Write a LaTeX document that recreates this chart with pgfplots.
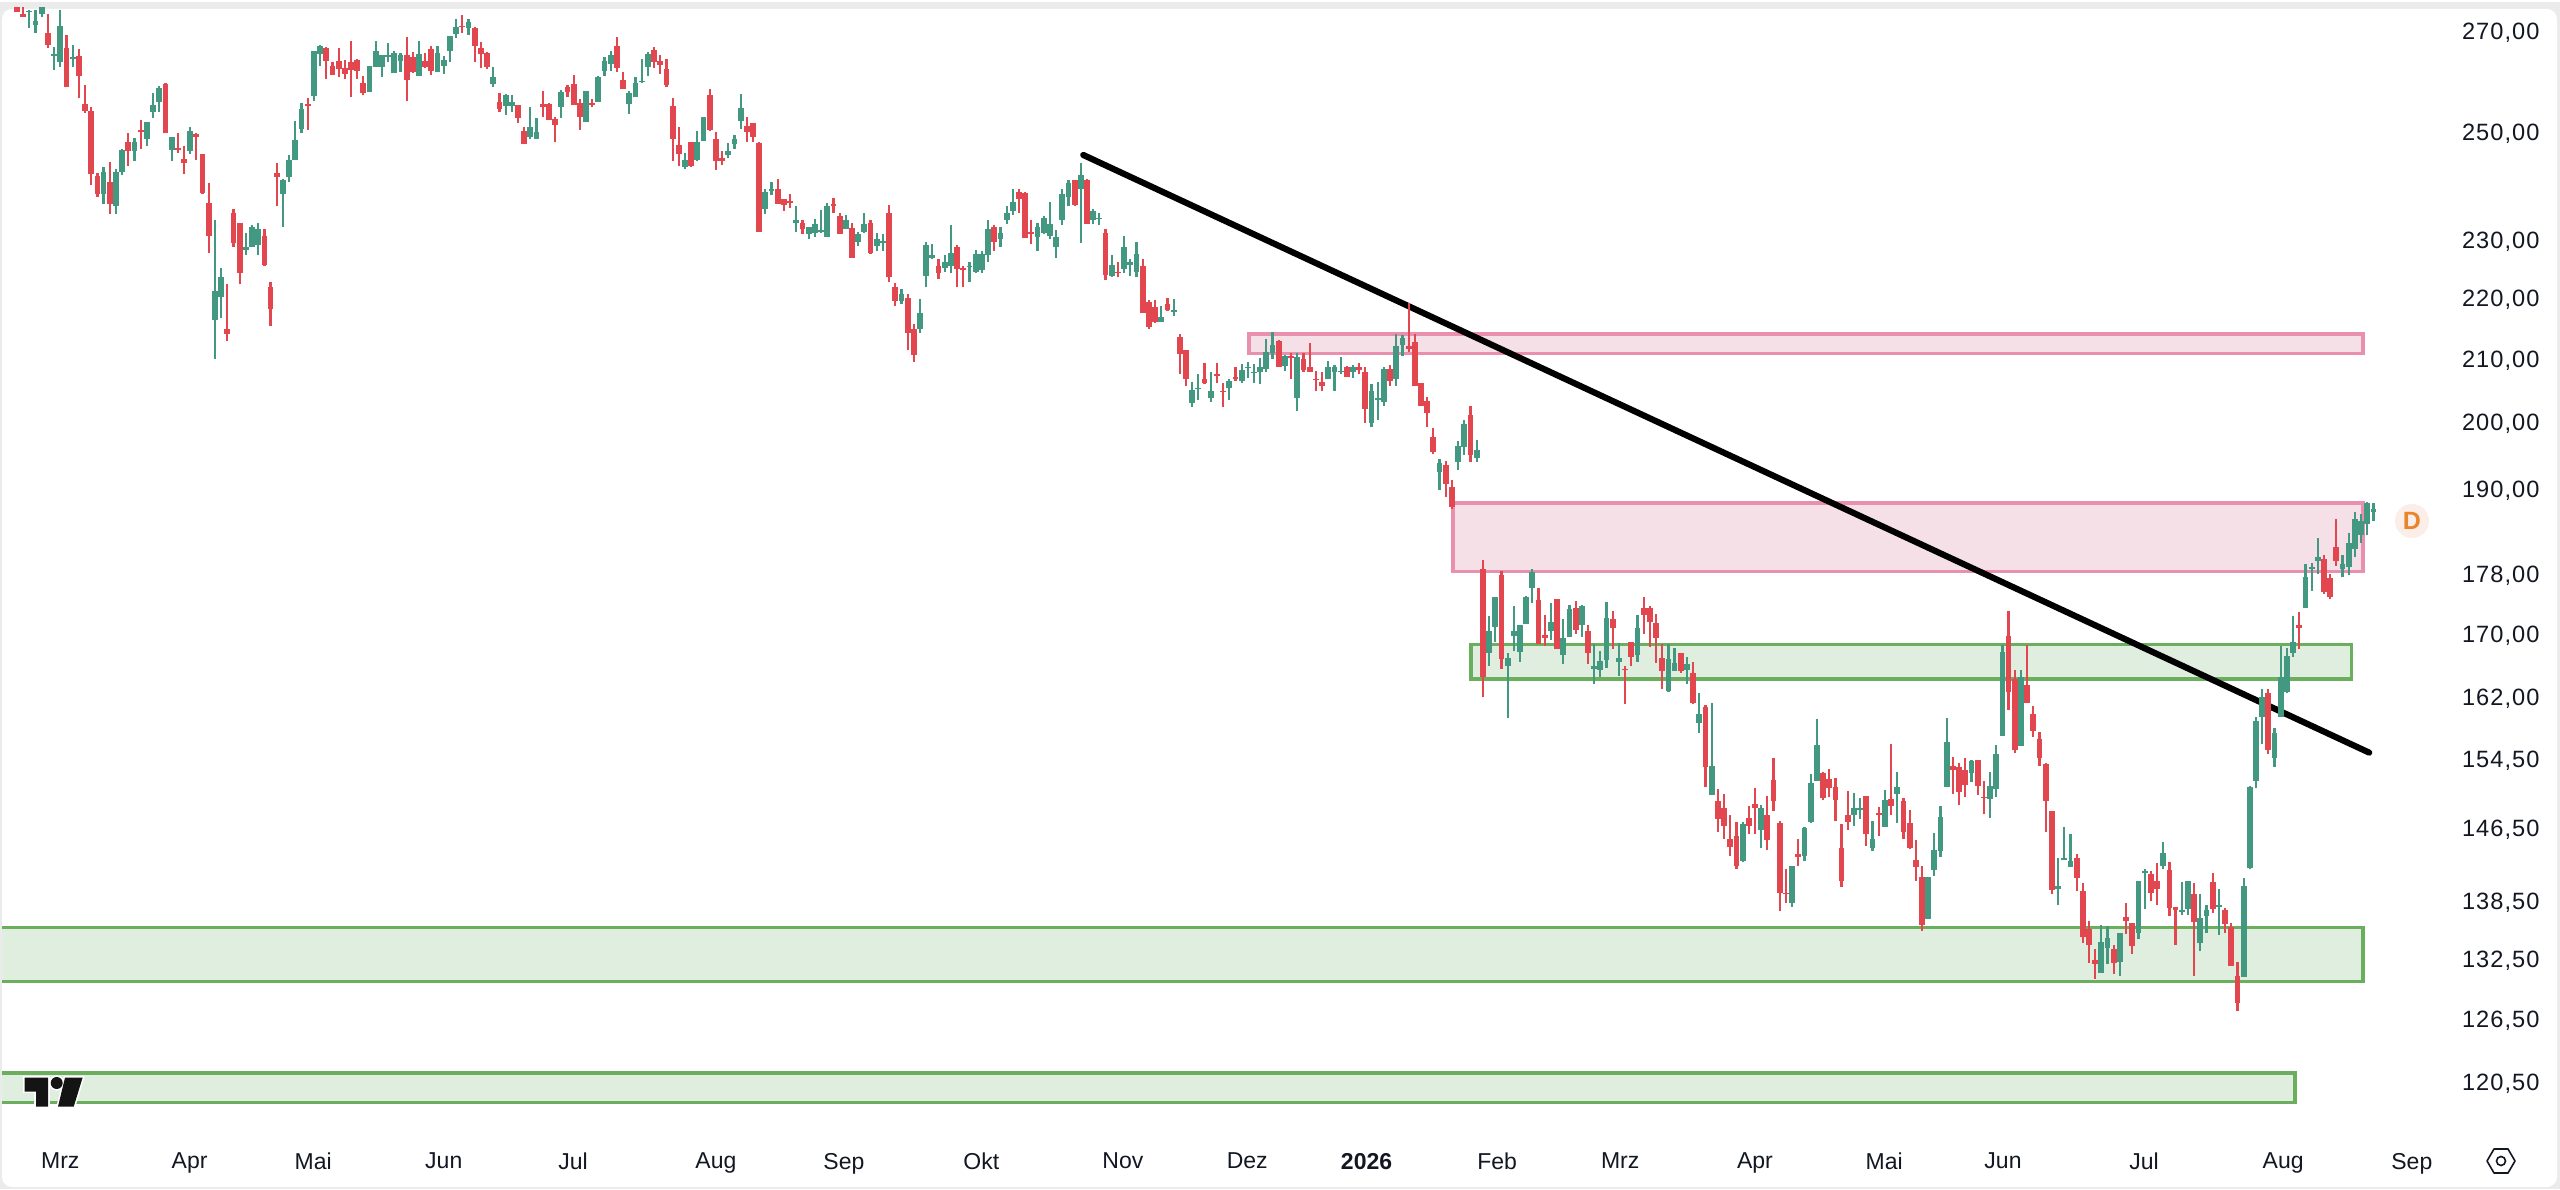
\documentclass[border=0pt]{standalone}
\usepackage{pgfplots}
\usepackage{pgfplotstable}
\usepackage{fontspec}
\pgfplotsset{compat=1.18}
\setmainfont{Liberation Sans}
\newfontfamily\tvnum[LetterSpace=4.5]{Liberation Sans}
\definecolor{cred}{HTML}{E2474F}
\definecolor{cgreen}{HTML}{429880}
\definecolor{pinkb}{HTML}{E890AE}
\definecolor{pinkf}{HTML}{F6E0E8}
\definecolor{greenb}{HTML}{6BAE5D}
\definecolor{greenf}{HTML}{E0EEDF}
\definecolor{bggray}{HTML}{EBEBEB}
\definecolor{tvtext}{HTML}{131722}
\definecolor{badgef}{HTML}{FBEDE8}
\definecolor{badget}{HTML}{E8842C}
\pgfplotstableread{
x l h b t
2 270.4 274.1 273.6 273.8
3 269.3 274.1 270.9 271.8
4 272.5 276 273.3 276
6 261.7 266.4 264.6 264.9
7 262.3 274.1 263.3 270.8
9 262.3 266.8 264.0 264.3
14 236.2 242.9 238.0 242.1
16 234.4 242.5 235.8 242.1
17 241.5 246.4 242.1 246.2
19 244.0 248.5 246.0 247.7
21 246.8 251.4 248.3 251.4
22 252.3 257.2 253.5 254.8
23 253.5 258.6 255.4 258.2
25 244.0 248.7 246.2 248.7
28 245.3 250.6 246.0 249.7
32 209.7 233.3 216.1 220.9
33 216.4 224.9 219.9 223.2
37 227.1 231 228 228.4
38 228.4 232.3 228.4 232.1
39 227.0 232.8 228.9 231.7
43 232.1 240.8 238 240.6
44 240.2 245.1 241 244.2
45 244.3 251.6 244.3 248.1
46 249.3 255.2 250.2 254.1
48 255.6 265.6 256.6 265.6
49 262.6 266.8 265 266.6
57 257.4 262.6 257.4 262.6
58 262.4 267.7 262.4 265.6
59 260.4 264.8 262.4 264.8
60 263.4 267.3 264.4 264.8
61 261.2 265.6 261.2 265.2
62 261.4 265.2 263.6 264.8
65 260.6 267.7 260.6 265
68 261.4 266.6 261.4 265.2
69 261 264.6 262.6 263.8
70 263.4 268.7 265.6 268.7
71 268.3 272.2 269.1 270.6
73 268.9 272.2 270.4 271.6
77 258.4 262.4 259 260.4
79 252.9 257 254.6 256.8
80 253.5 256.8 254.5 255.4
83 248.3 254.3 248.7 250.6
84 248.3 252.2 248.3 249.5
88 252.3 257.8 254.3 257.4
92 251.4 257.6 251.4 257.6
94 255.4 260.6 255.4 260.4
95 260.6 264.4 261.6 263.6
96 261.6 265.6 263 264.8
99 253.1 257.6 255 257.2
100 256.4 260.4 256.4 259.2
101 259.2 264 259.4 259.6
102 260.6 265.4 262.4 265
108 242.5 245.5 242.9 244.3
110 244 249.7 244.2 247.7
111 247.9 252.5 247.9 252.5
115 244.7 247.5 245.1 246
116 246.4 248.9 247.2 248.3
117 250.2 257 251.6 254.2
121 234.4 238.8 235.3 238.4
122 237.8 240.2 238.6 238.9
126 231.2 235.7 232.8 233.2
128 229.8 232.1 230.8 232.1
129 230.3 233.5 231 232.5
130 231 235.1 231.2 231.4
131 230.3 236.4 230.3 235.8
134 231.6 234.2 231.7 233.2
136 228.7 231.2 229.4 230.7
137 231 234.6 231.2 232.6
139 227.7 231 228.7 229.8
140 227.8 230.7 229.1 229.6
143 218.7 221.3 219.2 220.3
146 213.9 219.6 214.6 217.2
147 221.5 229.3 223.4 228.9
148 226.3 229 226.5 227
150 224.2 227 224.9 225.8
151 224 232.3 225.1 227.5
154 222.5 225.8 225.1 225.2
155 224 228 224.2 227.3
156 224 227.8 224.4 227.3
157 225.9 233.2 227 231.6
159 228.5 232.1 229.8 231
160 232.6 235.8 233.3 234.6
161 234.2 238.8 234.8 236.5
165 227.8 232.8 230.3 232.1
166 230.8 234 231 233.7
167 229.8 236.5 230.5 232.6
168 226.6 231.4 228.5 230.3
169 232.3 238.9 233.2 238
170 235.7 240.6 237.5 239.9
172 229.2 243.6 238.8 241.5
174 232.6 235.3 233.3 234.9
175 232.3 234.6 233.5 233.7
177 223.2 227 223.5 225.4
179 224 230.5 224.7 228.4
180 223.4 226.3 225.4 225.8
181 223.2 229.4 224.2 227.3
185 215.7 218.4 215.7 216.6
187 216.7 219.6 217.4 217.7
190 202 206 202.7 204.8
191 203.2 207.2 204.9 205
193 202.9 207.6 203.4 204.5
196 203.2 206.5 205 206.2
198 205.9 208.9 206.2 207.9
199 206.7 209.2 208.3 208.4
200 205.9 208.9 207.5 207.6
201 205.6 209.8 207.6 208.4
202 207.6 212.9 208.1 210.8
203 209.7 214 210.6 211.9
205 207.8 210.3 208.6 210.2
207 201.4 210.6 203.4 210
212 206.4 209.4 206.4 208.3
213 204.6 208.7 207.6 208.4
214 207.2 210 207.5 207.8
216 206.7 208.7 207.6 208.3
219 199 205.7 199.7 204.6
220 200.1 206 203.2 203.5
221 202.3 208.3 202.9 208.1
223 205.4 213.8 206.4 211.8
224 210.2 213.6 211.9 213
230 189.7 194.2 192.3 193.6
233 192.6 196.9 193.7 196.1
234 194.8 200.1 196 199.4
236 193.7 197 194.3 195.5
238 165.7 172.2 167.3 170.1
239 168.8 174.7 170.7 174.7
241 159.2 167.3 165.6 166.7
242 167.6 173.4 169.5 170.1
243 166.2 170.9 167.4 170.9
244 171.1 174.8 171.1 174.6
245 173.8 178.5 175.9 178
248 169 173.9 170.2 171.4
250 165.9 171.8 167.1 169.2
251 169.4 173.6 169.4 173
253 169.4 173.6 171 173.4
255 163.4 168.5 165.3 165.6
256 164.2 167.6 165.2 166.3
257 165.4 174 166.4 171.9
259 164.4 168.6 166.2 166.7
262 166.2 172.3 167.1 170.6
267 162.4 168.5 162.5 166.6
268 165 168 165 166
270 163.4 166.8 165.2 165.9
272 157.4 162.2 158.6 159.6
274 150 161 150 153.4
279 142.5 146.9 142.6 146.7
282 144 148.9 146.1 148.6
287 137.7 142.1 138.1 142.1
289 142.6 146.4 143.2 146.3
290 146.8 152.5 147 151.4
291 151.6 159 151.6 155.9
297 146.5 150.3 147.7 148.6
298 147.3 149.7 148.3 148.5
300 143.7 147.1 144.1 145.1
302 146.4 150.6 146.4 149.4
304 146.8 152.7 150.2 151
309 136.4 140.9 136.4 140.9
310 141 145.7 141.6 143.8
311 143.1 148.8 143.7 147.5
312 151 159.2 151 156.3
316 151.5 154.1 152.6 154
319 147.4 152.7 149.6 151.1
320 149.8 155.9 150.7 154.8
321 157 168.4 157 167.4
324 155.8 165.2 155.8 164.2
330 137.9 143 139.6 139.9
331 142.7 146.4 142.7 142.9
332 142 145.6 142 142.6
337 130.9 135.8 130.9 134
338 131.8 135.7 133.4 134.4
340 130.6 134.9 132 134.9
343 134.3 140.5 135 140.5
344 137.5 141.8 141.3 141.5
347 141.7 144.7 142.1 143.5
350 136.8 140.3 137.1 137.4
351 136.8 140.4 137.5 140.4
353 133.1 139.1 133.9 136.5
354 134.9 137.9 136.7 137.4
356 134.7 139.6 137.7 137.9
360 130.5 140.8 130.5 139.9
361 141.7 151.1 141.9 150.9
362 150.8 159.3 151.7 158.8
363 156 162.8 159.3 161.7
365 153.3 157.9 154.4 157.3
366 159.3 168.2 159.3 164.2
367 162.2 168 162.4 166.9
368 166.8 172.2 167.3 168.7
370 173.2 179.1 173.2 177.4
371 175.5 179.3 178.5 178.8
372 177.8 182.8 179.5 180.1
376 177.3 180.4 178.5 179.1
377 177.6 183.4 178.7 182.1
378 180.1 186.5 181.2 185.4
379 182.1 186.1 183.2 185.2
380 183.2 187.9 184.7 187.8
381 185.2 187.8 186.5 186.8
}\upbars
\pgfplotstableread{
x l h b t
0 273.7 276 273.7 276
1 272.7 276 272.7 273.3
5 266.1 273.3 266.7 269.3
8 258.3 268.9 258.3 266.2
10 256.1 266 260.6 264.5
11 253.3 258.8 253.6 255
12 239.6 254.4 241.6 253.7
13 237.5 241.9 238 241.2
15 234.4 243.8 236.2 240.2
18 243.2 249.3 246 247.7
20 246.4 251.8 249.5 250
24 249.3 259.2 249.3 259
26 245.5 249.3 246.2 246.6
27 241.7 246.8 243.6 244.5
29 244.2 249.3 248.7 249.1
30 238 245.3 238.2 245.3
31 227.5 239.9 230.5 236.4
34 212.6 222 213.8 214.6
35 228.4 235.3 229.2 234.6
36 222 232.8 224 232.8
40 225.2 231.7 225.4 230.5
41 215.1 222.5 217.9 221.5
42 235.7 243.6 241 241.9
47 249.9 256.2 254.6 255
50 260 266.4 263.6 266.2
51 260.8 263.4 260.8 262.6
52 260.4 266.2 262 263.6
53 260 263.8 261 262.2
54 256.4 267.7 261.8 263.4
55 260 264 261.6 263.8
56 256.8 260.6 257.2 259.2
63 255.6 268.5 259.8 264.8
64 261.2 265.4 261.4 264.4
66 262.2 265.2 262.4 263.6
67 260.8 266.6 261.6 266
72 269.3 272.9 270.6 270.8
74 263.4 270.6 266.6 270.4
75 262.2 267.5 265 266.2
76 262 265.4 262.4 265.2
78 253.5 257.2 254.1 255.4
81 251.2 254.8 252.3 254.8
82 247.2 250.6 247.2 249.8
85 252.5 257.6 254.3 255
86 251.8 255.2 251.8 255
87 247.7 252.5 251 252
89 256.4 258.8 257.4 258.4
90 254.8 260.8 254.8 259
91 249.9 256 252.5 255.2
93 254.3 256 254.8 255.2
97 261.4 268.5 262.2 266.6
98 258 261.4 258 259.8
103 262.2 266.4 263.4 265.8
104 261 264.8 262.8 263.6
105 258.4 264 258.8 262
106 244 256.2 248.3 254.6
107 243.1 250.6 245.3 247
109 242.9 247.7 243.2 247.7
112 249.7 258 250 256.8
113 242.3 249.5 244 248.3
114 243.4 246 244 244.7
118 247.7 252.5 249.5 250.8
119 247.7 251.2 248.7 251.2
120 231.2 247.7 231.2 247.5
123 236.2 240.8 236.2 238.9
124 234.9 237.1 236 237.1
125 235.5 238 236.4 236.7
127 230.8 233.2 231.6 232.8
132 234.6 237.3 235.7 236.2
133 230.7 234.6 230.8 234
135 226.6 232.8 226.6 231.9
138 227.3 233.2 227.5 232.8
141 222.5 236 223.2 234.6
142 218.4 222.3 219.2 221.5
144 211.1 220.4 213.9 219.7
145 209.2 215.4 210.3 214.6
149 223 226.3 224 225.1
152 221.5 228.9 224.6 228.4
153 221.5 225.1 224.4 224.9
158 227.7 232.3 229.4 232.1
162 234.6 238.9 237.1 238.4
163 230 238.4 230 238.2
164 229 233.2 230.8 231.2
171 235.8 240.6 236 240.6
173 232.6 240.8 232.6 240.6
176 222.8 231.6 223.7 231
178 223.2 225.8 223.9 224.2
182 217.2 226.3 217.2 225.1
183 214.6 219.4 214.9 219.1
184 215.6 219.4 215.7 218.2
186 217.6 219.7 217.7 218.7
188 207.2 213.8 210.5 213.3
189 205.3 211.1 206.5 211.1
192 205.7 209 205.9 206.5
194 205.9 209 207 207.3
195 202 205.9 204.5 204.6
197 206.2 208.3 206.5 206.8
204 208.4 212.7 208.4 212.6
206 206.5 210.6 209.8 210.2
208 207.6 210.6 207.9 209.7
209 207.6 212.3 207.6 208.3
210 204.5 207.8 206.4 206.5
211 204.5 207.5 205.3 206
215 206.8 208.6 206.8 208.4
217 207.3 209 207.9 208.3
218 199.7 208.3 201.8 207.5
222 205.4 208.7 206.2 208.1
225 210.8 218.9 211.3 211.8
226 205.3 213.8 205.3 212.4
227 202.3 205.9 202.3 205.9
228 199 203.7 201.2 203
229 194.9 198.9 195.2 197.5
231 188.6 193.9 190.5 193.3
232 186.8 191.1 187.1 190.1
235 193.7 202.3 194.8 200.9
237 161.7 179.7 164.2 178.5
240 165.3 178.2 166.6 177.6
246 168.5 175.9 168.5 174.3
247 168.2 172.3 169.3 169.7
249 167.8 174.4 167.8 174.4
252 169.8 174.2 170.3 173.2
254 165.9 171 167.3 170.2
258 167.8 172.8 170.5 171.7
260 160.9 165.7 165.2 165.3
261 165.6 168.8 166.8 168.8
263 169.8 174.6 172.3 173.2
264 168.1 173.5 171.4 173.2
265 166 172.4 169.2 171.2
266 162.7 168.5 165 166.7
269 164.8 167.3 165 167.3
271 160.9 166.2 161 164.8
273 151 160.8 153.3 160.5
275 145.8 150.7 147.3 149.3
276 145.1 150.2 146.5 148.5
277 143.2 147.7 144.2 145
278 141.8 146.9 142.1 145.4
280 145.6 148.8 146.5 147.4
281 145.6 150.8 148.5 149
283 143.8 149.9 144.9 147.7
284 148.2 154.3 149.3 151.8
285 137.3 147.1 139.2 146.8
286 138.1 141.8 139 139.2
288 142.1 145.1 143.1 143.4
292 149.5 152.7 149.7 152.6
293 149.8 153.1 150.8 151.9
294 147.1 152 149.4 151
295 139.8 146.7 140.4 144
296 146.1 150.5 146.9 147.8
299 144.3 149.9 145.6 149.9
301 145.4 148.7 147.7 148
303 147.8 156 148.8 149.6
305 145 149.7 145.8 149.3
306 143.9 148.3 144 146.8
307 140.5 144.9 142 142.7
308 135.2 142.1 135.8 140.9
313 150.2 154.5 153 153.4
314 148.9 153.8 150.4 153.3
315 149.8 154.4 151.2 153
317 150 154.1 151.1 154.1
318 147.9 151.6 149.7 149.8
322 160.2 172.8 162.4 169.5
323 154.9 165.2 155.3 164
325 161 168.4 161 163.3
326 156.9 160.7 157.6 159.7
327 153.4 157.5 154.3 156.6
328 145.8 153.8 149.3 153.6
329 139 148.2 139.5 148.2
333 139.4 143.4 140.8 143
334 133.9 140.2 134.5 139.4
335 131.9 136.2 133.7 135.4
336 130.3 133.3 131.8 132.2
339 130.8 133.7 131.9 133.3
341 134.8 138.1 136.2 136.6
342 132.8 136 133.6 136
345 138.3 141.5 139.2 141.2
346 137.9 142.4 139.6 140.4
348 136.7 142.5 137.6 141.6
349 133.7 137.7 137.4 137.7
352 130.6 140.2 136.1 139
355 137 141.3 137.5 140.3
357 135 137.6 135.9 137.4
358 131.6 136 131.6 135.6
359 127.1 132 127.9 130.6
364 154.8 162.8 155.3 162.2
369 167.8 172.6 170.5 171
373 175.1 180.4 175.4 179.9
374 174.4 177.8 174.7 177.2
375 178.9 185.4 179.6 181.5
}\downbars
\begin{document}
\begin{tikzpicture}
\fill[white] (0,0) rectangle (1280pt,594.5pt);
\begin{scope}[shift={(0,594.5pt)},x=0.5pt,y=-0.5pt]
\fill[bggray] (0,2) rectangle (2560,1189);
\fill[white,rounded corners=5pt] (2,9) rectangle (2557,1187);
\end{scope}
\begin{axis}[
  at={(1pt,29.5pt)},anchor=south west,
  scale only axis,width=1224pt,height=561pt,
  xmin=-2.425,xmax=393.37,
  ymode=log,ymin=116.02,ymax=274.5,
  axis line style={draw=none},
  major tick length=0pt,tick style={draw=none},
  minor tick num=0,
  ytick={270,250,230,220,210,200,190,178,170,162,154.5,146.5,138.5,132.5,126.5,120.5},
  yticklabels={{270,00},{250,00},{230,00},{220,00},{210,00},{200,00},{190,00},{178,00},{170,00},{162,00},{154,50},{146,50},{138,50},{132,50},{126,50},{120,50}},
  yticklabel pos=right,
  yticklabel style={font=\tvnum\fontsize{11.8pt}{14pt}\selectfont,text=tvtext,anchor=west,xshift=2.5pt,yshift=-1.8pt},
  xtick={7,27.9,47.9,69,89.9,113,133.7,155.9,178.8,198.9,218.2,239.3,259.2,281,301.9,321.1,343.9,366.4,387.2},
  xticklabels={Mrz,Apr,Mai,Jun,Jul,Aug,Sep,Okt,Nov,Dez,{\bfseries 2026},Feb,Mrz,Apr,Mai,Jun,Jul,Aug,Sep},
  xticklabel style={font=\fontsize{11.5pt}{14pt}\selectfont,text=tvtext,yshift=-8pt},
]
% zones
\addplot[draw=pinkb,fill=pinkf,line width=1.7pt,forget plot] coordinates {(199.2,213.7)(379.3,213.7)(379.3,210.5)(199.2,210.5)} -- cycle;
\addplot[draw=pinkb,fill=pinkf,line width=1.7pt,forget plot] coordinates {(232.2,187.7)(379.3,187.7)(379.3,178.1)(232.2,178.1)} -- cycle;
\addplot[draw=greenb,fill=greenf,line width=1.7pt,forget plot] coordinates {(235.1,168.4)(377.4,168.4)(377.4,164.0)(235.1,164.0)} -- cycle;
\addplot[draw=greenb,fill=greenf,line width=1.7pt,forget plot] coordinates {(-10,135.5)(379.3,135.5)(379.3,130.0)(-10,130.0)} -- cycle;
\addplot[draw=greenb,fill=greenf,line width=1.7pt,forget plot] coordinates {(-10,121.2)(368.3,121.2)(368.3,118.5)(-10,118.5)} -- cycle;
% trend line
\addplot[black,line width=3.1pt,line cap=round,forget plot] coordinates {(172.4,245.2)(380.3,155.0)};
% candles: wicks, then bodies
\addplot[draw=none,mark=none,forget plot,error bars/.cd,y dir=plus,y explicit,error mark=none,error bar style={draw=cgreen,line width=1.1pt}] table[x=x,y=l,y error expr=\thisrow{h}-\thisrow{l}] {\upbars};
\addplot[draw=none,mark=none,forget plot,error bars/.cd,y dir=plus,y explicit,error mark=none,error bar style={draw=cred,line width=1.1pt}] table[x=x,y=l,y error expr=\thisrow{h}-\thisrow{l}] {\downbars};
\addplot[draw=none,mark=none,forget plot,error bars/.cd,y dir=plus,y explicit,error mark=none,error bar style={draw=cgreen,line width=2.9pt}] table[x=x,y=b,y error expr=\thisrow{t}-\thisrow{b}] {\upbars};
\addplot[draw=none,mark=none,forget plot,error bars/.cd,y dir=plus,y explicit,error mark=none,error bar style={draw=cred,line width=2.9pt}] table[x=x,y=b,y error expr=\thisrow{t}-\thisrow{b}] {\downbars};
\end{axis}
\begin{scope}[shift={(0,594.5pt)},x=0.5pt,y=-0.5pt]
% logo
\fill[white,draw=white,line width=1.6pt,line join=miter]
  (24.5,1077.7)--(48,1077.7)--(48,1106.7)--(36,1106.7)--(36,1091.7)--(24.5,1091.7)--cycle;
\fill[white,draw=white,line width=1.6pt] (56.7,1083) circle (6);
\fill[white,draw=white,line width=1.6pt] (65,1077.7)--(82.6,1077.7)--(73.7,1106.7)--(58,1106.7)--cycle;
\fill[black!92] (24.5,1077.7)--(48,1077.7)--(48,1106.7)--(36,1106.7)--(36,1091.7)--(24.5,1091.7)--cycle;
\fill[black!92] (56.7,1083) circle (6);
\fill[black!92] (65,1077.7)--(82.6,1077.7)--(73.7,1106.7)--(58,1106.7)--cycle;
% badge
\fill[badgef] (2412,521) circle (17);
\node[text=badget,font=\bfseries\fontsize{12.5pt}{14pt}\selectfont] at (2412,521) {D};
% settings icon
\draw[tvtext,line width=0.8pt,line join=round] (2487,1161)--(2494,1149)--(2508,1149)--(2515,1161)--(2508,1173)--(2494,1173)--cycle;
\draw[tvtext,line width=0.8pt] (2501,1161) circle (4.5);
\end{scope}
\end{tikzpicture}
\end{document}
